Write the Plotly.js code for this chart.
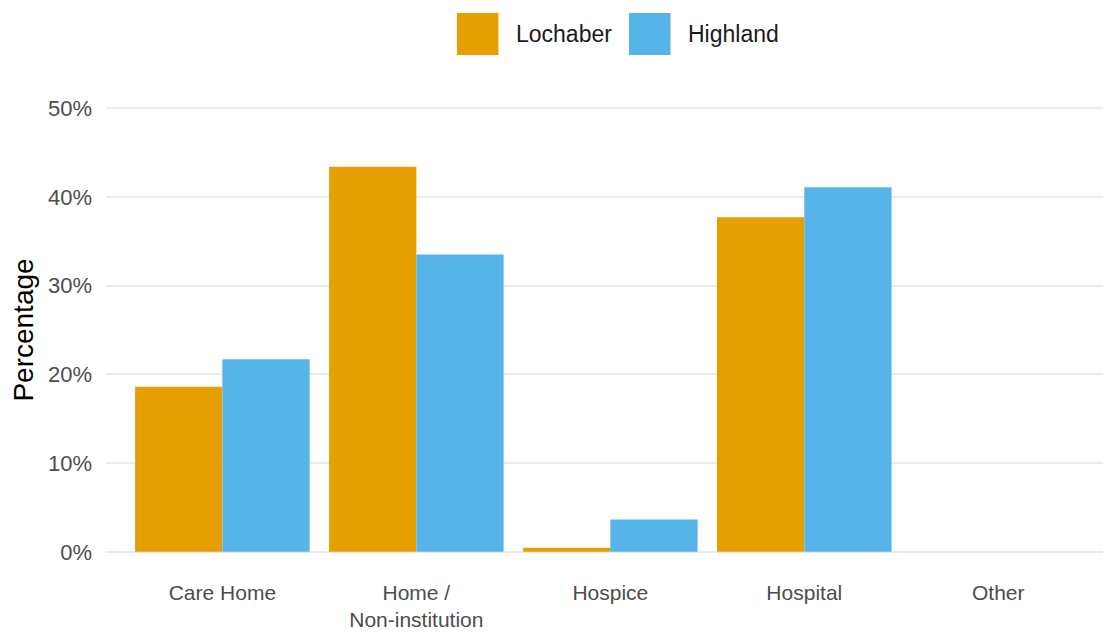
<!DOCTYPE html>
<html>
<head>
<meta charset="utf-8">
<script src="https://cdn.plot.ly/plotly-3.0.1.min.js"></script>
<style>html,body{margin:0;padding:0;background:#fff;}#chart{width:1103px;height:632px;}</style>
</head>
<body>
<div id="chart"></div>
<script>
const categories = ["Care Home", "Home /<br>Non-institution", "Hospice", "Hospital", "Other"];
const seriesNames = ["Lochaber", "Highland"];
const lochaber = [18.6, 43.4, 0.45, 37.7, 0];
const highland = [21.7, 33.5, 3.65, 41.1, 0];
const yTickVals = [0, 10, 20, 30, 40, 50];
const yTickText = ["0%", "10%", "20%", "30%", "40%", "50%"];
const colors = ["#E69F00", "#56B4E9"];

const font = "Liberation Sans, Arial, sans-serif";
const traces = [lochaber, highland].map((vals, i) => ({
  type: "bar",
  name: seriesNames[i],
  x: categories,
  y: vals,
  marker: {color: colors[i], line: {width: 0}},
  showlegend: false,
  hoverinfo: "x+y"
}));

// custom legend (large square keys as in the reference), positioned in paper units
const keyLeft = [0.352, 0.5246];
const keyW = 0.0416;
const textLeft = [0.4112, 0.5838];
const shapes = [];
const annotations = [];
seriesNames.forEach((n, i) => {
  shapes.push({type: "rect", xref: "paper", yref: "paper",
    x0: keyLeft[i], x1: keyLeft[i] + keyW,
    y0: 1.0635, y1: 1.1496, fillcolor: colors[i], line: {width: 0}});
  annotations.push({xref: "paper", yref: "paper", x: textLeft[i], y: 1.1066,
    xanchor: "left", yanchor: "middle", text: n, showarrow: false, xshift: -2,
    font: {family: font, size: 23, color: "#1a1a1a"}});
});

const layout = {
  width: 1103, height: 632,
  margin: {l: 106, r: 0, t: 86, b: 58},
  paper_bgcolor: "#ffffff", plot_bgcolor: "#ffffff",
  barmode: "group", bargap: 0.1, bargroupgap: 0,
  font: {family: font},
  xaxis: {
    type: "category", range: [-0.6, 4.54],
    showgrid: false, zeroline: false, showline: false, ticks: "",
    tickfont: {family: font, size: 21, color: "#4d4d4d"},
    ticklabelstandoff: 4
  },
  yaxis: {
    range: [-2.5, 52.5], tickvals: yTickVals, ticktext: yTickText,
    showgrid: true, gridcolor: "#EBEBEB", gridwidth: 1.8,
    zeroline: false, showline: false, ticks: "",
    tickfont: {family: font, size: 22, color: "#4d4d4d"},
    ticklabelstandoff: 13,
    title: {text: "Percentage", font: {family: font, size: 28, color: "#000000"}, standoff: 6}
  },
  shapes: shapes,
  annotations: annotations
};
Plotly.newPlot("chart", traces, layout, {displayModeBar: false, staticPlot: true});
</script>
</body>
</html>
